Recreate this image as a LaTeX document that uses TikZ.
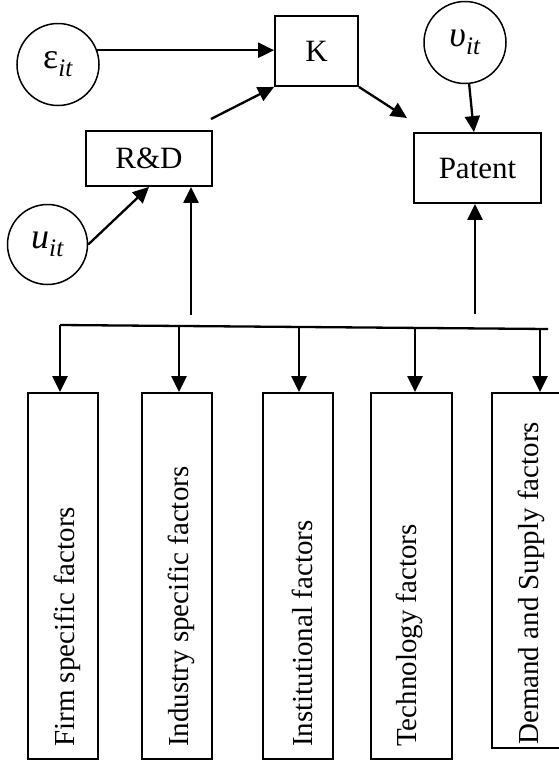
\documentclass[tikz,border=0pt]{standalone}
\usepackage{fontspec}
\setmainfont{Liberation Serif}
\usetikzlibrary{arrows.meta}
\newcommand{\lbsub}[2]{#1\textsubscript{\itshape #2}}
\begin{document}
\begin{tikzpicture}[x=1pt,y=-1pt,
  box/.style={draw, line width=1.8pt, inner sep=0pt, font=\fontsize{31}{36}\selectfont},
  circ/.style={draw, circle, line width=1.5pt, inner sep=0pt, minimum size=82pt, font=\fontsize{36}{42}\selectfont},
  arr/.style={line width=2.3pt, -{Triangle[length=16pt,width=15pt]}},
  factor/.style={draw, line width=1.8pt, inner sep=0pt, minimum width=70pt, minimum height=366pt},
  ftext/.style={rotate=90, anchor=west, inner sep=0pt, font=\fontsize{29}{34}\selectfont},
  bar/.style={line width=2.3pt}]
\useasboundingbox (0,0) rectangle (558,761);

% upper part
\node[circ] (eps) at (58,64.5) {\lbsub{ε}{it}};
\node[box, minimum width=83pt, minimum height=70pt] (K) at (316.5,51) {K};
\node[box, minimum width=126pt, minimum height=55pt] (rd) at (149,158.5) {R\&D};
\node[box, minimum width=127pt, minimum height=70pt] (pat) at (477.5,168) {Patent};
\node[circ, minimum size=80pt] (u) at (47.5,244.5) {\lbsub{\itshape u}{it}};
\node[circ] (v) at (465,42.5) {\lbsub{\itshape υ}{it}};

\coordinate (rdk) at (211,119);
\coordinate (kp) at (407,118);
\coordinate (r0) at (191,315);
\coordinate (p0) at (475,314);

\draw[arr] (eps.20) -- (eps.20 -| K.west);
\draw[arr] (rdk) -- (K.south west);
\draw[arr] (K.south east) -- (kp);
\draw[arr] (v) -- (pat);
\draw[arr] (u.east) -- (rd.south);
\draw[arr] (r0) -- (r0 |- rd.south);
\draw[arr] (p0) -- (p0 |- pat.south);

% horizontal bar
\coordinate (hL) at (60,325);
\coordinate (hR) at (548,329);
\draw[bar] (hL) -- (hR);
\coordinate (h1) at (60,325);
\coordinate (h2) at (179,326);
\coordinate (h3) at (299,327);
\coordinate (h4) at (415,328);
\coordinate (h5) at (540,329);

% factor boxes
\node[factor] (f1) at (63,576) {};
\node[factor] (f2) at (177,576) {};
\node[factor] (f3) at (298,576) {};
\node[factor, minimum width=81pt] (f4) at (411.5,576) {};
\node[factor, minimum height=355pt] (f5) at (527,570.5) {};

\node[ftext] (t1) at (67.5,747) {Firm specific factors};
\node[ftext] (t2) at (181,747) {Industry specific factors};
\node[ftext] (t3) at (302.5,747) {Institutional factors};
\node[ftext] (t4) at (409,747) {Technology factors};
\node[ftext] (t5) at (531.5,745) {Demand and Supply factors};

\draw[arr] (h1) -- (h1 |- f1.north);
\draw[arr] (h2) -- (h2 |- f2.north);
\draw[arr] (h3) -- (h3 |- f3.north);
\draw[arr] (h4) -- (h4 |- f4.north);
\draw[arr] (h5) -- (h5 |- f5.north);
\end{tikzpicture}
\end{document}
